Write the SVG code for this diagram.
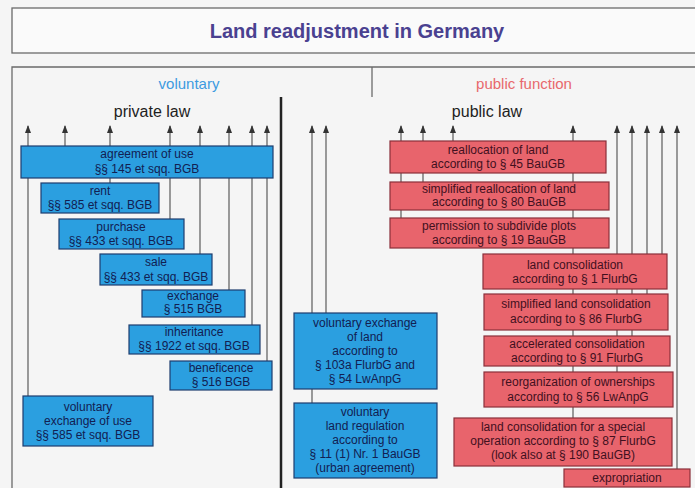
<svg xmlns="http://www.w3.org/2000/svg" width="695" height="488" viewBox="0 0 695 488">
<defs>
<marker id="ah" viewBox="0 0 8 6" refX="7" refY="3" markerWidth="8" markerHeight="6" orient="auto" markerUnits="userSpaceOnUse">
<path d="M0,0 L8,3 L0,6 Z" fill="#333"/>
</marker>
<style>
.bg{fill:#f5f5f5}
.frame{fill:none;stroke:#6a6a6a;stroke-width:1.3}
.title{font-family:"Liberation Sans",Arial,sans-serif;font-size:20px;font-weight:bold;fill:#4a4190;text-anchor:middle}
.hdr{font-family:"Liberation Sans",Arial,sans-serif;font-size:15px;text-anchor:middle}
.law{font-family:"Liberation Sans",Arial,sans-serif;font-size:16px;fill:#1e1e1e;text-anchor:middle}
.b rect{fill:#2b9fe0;stroke:#1d3d6e;stroke-width:1.2}
.r rect{fill:#e8646c;stroke:#8a2f3a;stroke-width:1.2}
.b text{font-family:"Liberation Sans",Arial,sans-serif;font-size:12px;fill:#122052;text-anchor:middle}
.r text{font-family:"Liberation Sans",Arial,sans-serif;font-size:12px;fill:#42101e;text-anchor:middle}
.c line{stroke:#666;stroke-width:1.3}
.c .a{marker-end:url(#ah)}
</style>
</defs>
<rect class="bg" x="0" y="0" width="695" height="488"/>
<g id="title">
<rect x="12" y="8" width="700" height="45" fill="#fafafa" stroke="#6a6a6a" stroke-width="1.3"/>
<text class="title" x="357" y="38">Land readjustment in Germany</text>
</g>
<g id="frame">
<path class="frame" d="M12,488 V67 H700"/>
<line x1="372" y1="67" x2="372" y2="97" stroke="#6a6a6a" stroke-width="1.3"/>
<line x1="281" y1="97" x2="281" y2="488" stroke="#222" stroke-width="2.5"/>
<text class="hdr" x="189" y="89" fill="#3d9be0">voluntary</text>
<text class="hdr" x="524" y="89" fill="#e8686c">public function</text>
<text class="law" x="152" y="117">private law</text>
<text class="law" x="487" y="117">public law</text>
</g>
<g id="connectors" class="c">
<line class="a" x1="28" y1="396" x2="28" y2="126"/>
<line class="a" x1="65" y1="146" x2="65" y2="126"/>
<line class="a" x1="110" y1="183" x2="110" y2="126"/>
<line class="a" x1="170" y1="219" x2="170" y2="126"/>
<line class="a" x1="200" y1="254" x2="200" y2="126"/>
<line class="a" x1="229" y1="290" x2="229" y2="126"/>
<line class="a" x1="252" y1="325" x2="252" y2="126"/>
<line class="a" x1="267" y1="361" x2="267" y2="126"/>
<line class="a" x1="312" y1="403" x2="312" y2="126"/>
<line class="a" x1="326" y1="313" x2="326" y2="126"/>
<line class="a" x1="401" y1="218" x2="401" y2="126"/>
<line class="a" x1="423" y1="182" x2="423" y2="126"/>
<line class="a" x1="453" y1="141" x2="453" y2="126"/>
<line class="a" x1="573" y1="418" x2="573" y2="126"/>
<line class="a" x1="617" y1="372" x2="617" y2="126"/>
<line class="a" x1="632" y1="336" x2="632" y2="126"/>
<line class="a" x1="647" y1="294" x2="647" y2="126"/>
<line class="a" x1="662" y1="254" x2="662" y2="126"/>
<line class="a" x1="677" y1="469" x2="677" y2="126"/>
</g>
<g id="n1" class="b"><rect x="21" y="146" width="252" height="32"/><text x="147" y="158">agreement of use</text><text x="147" y="173">§§ 145 et sqq. BGB</text></g>
<g id="n2" class="b"><rect x="41" y="183" width="118" height="30"/><text x="100" y="195">rent</text><text x="100" y="209">§§ 585 et sqq. BGB</text></g>
<g id="n3" class="b"><rect x="59" y="219" width="125" height="30"/><text x="121" y="231">purchase</text><text x="121" y="245">§§ 433 et sqq. BGB</text></g>
<g id="n4" class="b"><rect x="100" y="254" width="112" height="31"/><text x="156" y="266">sale</text><text x="156" y="281">§§ 433 et sqq. BGB</text></g>
<g id="n5" class="b"><rect x="142" y="290" width="103" height="27"/><text x="193" y="300">exchange</text><text x="193" y="313">§ 515 BGB</text></g>
<g id="n6" class="b"><rect x="129" y="325" width="131" height="29"/><text x="194" y="336">inheritance</text><text x="194" y="350">§§ 1922 et sqq. BGB</text></g>
<g id="n7" class="b"><rect x="170" y="361" width="102" height="29"/><text x="221" y="372">beneficence</text><text x="221" y="386">§ 516 BGB</text></g>
<g id="n8" class="b"><rect x="23" y="396" width="130" height="50"/><text x="88" y="411">voluntary</text><text x="88" y="425">exchange of use</text><text x="88" y="439">§§ 585 et sqq. BGB</text></g>
<g id="n9" class="b"><rect x="294" y="313" width="143" height="76"/><text x="365" y="327">voluntary exchange</text><text x="365" y="341">of land</text><text x="365" y="355">according to</text><text x="365" y="369">§ 103a FlurbG and</text><text x="365" y="383">§ 54 LwAnpG</text></g>
<g id="n10" class="b"><rect x="294" y="403" width="143" height="75"/><text x="365" y="416">voluntary</text><text x="365" y="430">land regulation</text><text x="365" y="444">according to</text><text x="365" y="458">§ 11 (1) Nr. 1 BauGB</text><text x="365" y="472">(urban agreement)</text></g>
<g id="n11" class="r"><rect x="390" y="141" width="216" height="32"/><text x="498" y="154">reallocation of land</text><text x="498" y="168">according to § 45 BauGB</text></g>
<g id="n12" class="r"><rect x="390" y="182" width="219" height="28"/><text x="499" y="193">simplified reallocation of land</text><text x="499" y="206">according to § 80 BauGB</text></g>
<g id="n13" class="r"><rect x="390" y="218" width="219" height="30"/><text x="499" y="230">permission to subdivide plots</text><text x="499" y="244">according to § 19 BauGB</text></g>
<g id="n14" class="r"><rect x="483" y="254" width="184" height="35"/><text x="575" y="269">land consolidation</text><text x="575" y="283">according to § 1 FlurbG</text></g>
<g id="n15" class="r"><rect x="484" y="294" width="184" height="36"/><text x="576" y="308">simplified land consolidation</text><text x="576" y="323">according to § 86 FlurbG</text></g>
<g id="n16" class="r"><rect x="484" y="336" width="186" height="30"/><text x="577" y="348">accelerated consolidation</text><text x="577" y="362">according to § 91 FlurbG</text></g>
<g id="n17" class="r"><rect x="484" y="372" width="189" height="35"/><text x="578" y="386">reorganization of ownerships</text><text x="578" y="401">according to § 56 LwAnpG</text></g>
<g id="n18" class="r"><rect x="454" y="418" width="218" height="48"/><text x="563" y="431">land consolidation for a special</text><text x="563" y="445">operation according to § 87 FlurbG</text><text x="563" y="459">(look also at § 190 BauGB)</text></g>
<g id="n19" class="r"><rect x="564" y="469" width="126" height="18"/><text x="627" y="482">expropriation</text></g>
</svg>
